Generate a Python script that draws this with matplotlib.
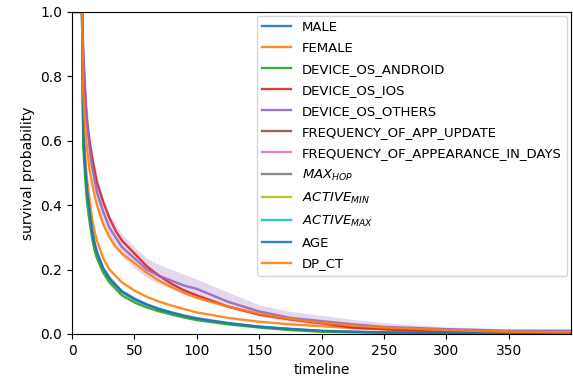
import numpy as np
import matplotlib
matplotlib.use("Agg")
import matplotlib.pyplot as plt

# timeline knots (days)
timeline = [0, 8, 9, 10, 11, 12, 14, 16, 18, 20, 25, 30, 35, 40, 50, 60, 70, 80,
            90, 100, 125, 150, 175, 200, 225, 250, 300, 350, 400]

male = [1.0, 1.0, 0.62, 0.55, 0.49, 0.44, 0.38, 0.32, 0.28, 0.25, 0.20, 0.17, 0.15,
        0.13, 0.107, 0.09, 0.076, 0.065, 0.055, 0.047, 0.033, 0.022, 0.015, 0.009,
        0.007, 0.005, 0.003, 0.002, 0.001]
female = [1.0, 1.0, 0.66, 0.59, 0.53, 0.48, 0.42, 0.36, 0.32, 0.29, 0.235, 0.20, 0.18,
          0.16, 0.135, 0.115, 0.10, 0.088, 0.077, 0.067, 0.05, 0.038, 0.03, 0.024,
          0.018, 0.014, 0.009, 0.006, 0.004]
android = [1.0, 1.0, 0.58, 0.52, 0.46, 0.41, 0.35, 0.30, 0.26, 0.235, 0.19, 0.16, 0.14,
           0.12, 0.098, 0.082, 0.07, 0.06, 0.051, 0.043, 0.03, 0.02, 0.012, 0.007,
           0.005, 0.004, 0.002, 0.001, 0.001]
ios = [1.0, 1.0, 0.85, 0.78, 0.71, 0.66, 0.60, 0.55, 0.51, 0.47, 0.41, 0.36, 0.32,
       0.29, 0.25, 0.21, 0.18, 0.155, 0.135, 0.12, 0.085, 0.06, 0.045, 0.033,
       0.02, 0.015, 0.006, 0.004, 0.002]
others = [1.0, 1.0, 0.88, 0.80, 0.72, 0.66, 0.58, 0.52, 0.48, 0.44, 0.38, 0.33, 0.30,
          0.27, 0.235, 0.20, 0.18, 0.165, 0.15, 0.14, 0.10, 0.07, 0.05, 0.04,
          0.03, 0.022, 0.015, 0.01, 0.01]
others_hi = [1.0, 1.0, 0.92, 0.85, 0.77, 0.71, 0.63, 0.57, 0.53, 0.49, 0.42, 0.37, 0.34,
             0.31, 0.27, 0.235, 0.215, 0.20, 0.185, 0.17, 0.13, 0.09, 0.07, 0.058,
             0.045, 0.035, 0.022, 0.016, 0.016]
others_lo = [1.0, 1.0, 0.84, 0.75, 0.67, 0.61, 0.54, 0.48, 0.44, 0.40, 0.34, 0.30, 0.27,
             0.24, 0.205, 0.175, 0.155, 0.14, 0.125, 0.115, 0.08, 0.055, 0.038, 0.028,
             0.02, 0.013, 0.009, 0.005, 0.005]
age = [1.0, 1.0, 0.63, 0.56, 0.50, 0.45, 0.385, 0.325, 0.285, 0.255, 0.205, 0.175, 0.153,
       0.133, 0.11, 0.092, 0.078, 0.067, 0.057, 0.049, 0.034, 0.023, 0.016, 0.01,
       0.007, 0.005, 0.003, 0.002, 0.001]
dp_ct = [1.0, 1.0, 0.75, 0.68, 0.62, 0.58, 0.51, 0.47, 0.43, 0.40, 0.34, 0.30, 0.27,
         0.25, 0.22, 0.19, 0.165, 0.145, 0.127, 0.112, 0.085, 0.063, 0.047, 0.035,
         0.026, 0.02, 0.012, 0.007, 0.005]

labels = ["MALE", "FEMALE", "DEVICE_OS_ANDROID", "DEVICE_OS_IOS", "DEVICE_OS_OTHERS",
          "FREQUENCY_OF_APP_UPDATE", "FREQUENCY_OF_APPEARANCE_IN_DAYS",
          r"$MAX_{HOP}$", r"$ACTIVE_{MIN}$", r"$ACTIVE_{MAX}$", "AGE", "DP_CT"]
# series without a visible curve get empty data
series = [male, female, android, ios, others, [], [], [], [], [], age, dp_ct]
colors = ["C0", "C1", "C2", "C3", "C4", "C5", "C6", "C7", "C8", "C9", "C0", "C1"]

fig = plt.figure(figsize=(5.73, 3.83), dpi=100)
ax = fig.add_axes([0.1257, 0.128, 0.871, 0.841])

ax.fill_between(timeline, others_lo, others_hi, color="C4", alpha=0.25, linewidth=0)

for lab, ys, c in zip(labels, series, colors):
    xs = timeline if len(ys) else []
    ax.plot(xs, ys, color=c, linewidth=1.7, alpha=0.9, label=lab)

ax.set_xlim(0, 400)
ax.set_ylim(0, 1.0)
ax.set_xticks([0, 50, 100, 150, 200, 250, 300, 350])
ax.set_yticks([0.0, 0.2, 0.4, 0.6, 0.8, 1.0])
ax.set_xlabel("timeline")
ax.set_ylabel("survival probability")
ax.legend(loc="upper right", fontsize=9.5, labelspacing=0.6, handlelength=2.2,
          borderaxespad=0.3)

plt.savefig("out.png", dpi=100)
plt.close()
